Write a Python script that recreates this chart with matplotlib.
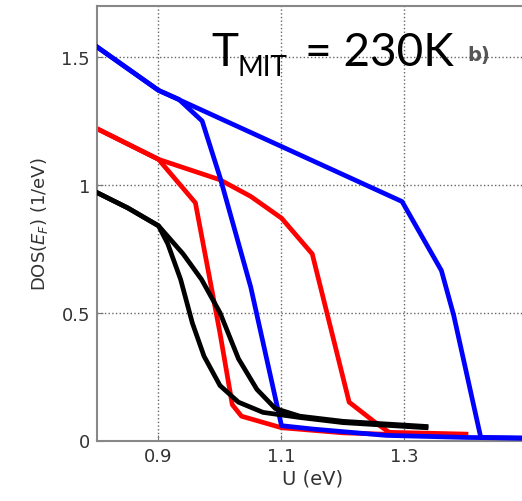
import matplotlib
matplotlib.use("Agg")
import matplotlib.pyplot as plt

# ---- data ----
blue_upper_u   = [0.80, 0.90, 1.296, 1.36, 1.38, 1.424, 1.60]
blue_upper_dos = [1.54, 1.37, 0.935, 0.665, 0.49, 0.012, 0.006]

blue_steep_u   = [0.80, 0.90, 0.933, 0.971, 1.00, 1.05, 1.10, 1.15, 1.27, 1.40, 1.60]
blue_steep_dos = [1.54, 1.37, 1.335, 1.25, 1.03, 0.60, 0.058, 0.045, 0.02, 0.012, 0.006]

red_upper_u   = [0.80, 0.90, 1.00, 1.05, 1.10, 1.15, 1.21, 1.25, 1.275, 1.40]
red_upper_dos = [1.22, 1.10, 1.02, 0.955, 0.87, 0.73, 0.15, 0.075, 0.032, 0.025]

red_lower_u   = [0.80, 0.90, 0.96, 1.00, 1.02, 1.035, 1.10, 1.20, 1.30]
red_lower_dos = [1.22, 1.10, 0.93, 0.42, 0.14, 0.095, 0.05, 0.03, 0.022]

black_left_u   = [0.80, 0.85, 0.90, 0.915, 0.936, 0.955, 0.974, 1.00, 1.03, 1.07, 1.13, 1.20, 1.335]
black_left_dos = [0.97, 0.91, 0.84, 0.77, 0.63, 0.46, 0.33, 0.215, 0.15, 0.11, 0.09, 0.07, 0.05]

black_right_u   = [0.80, 0.85, 0.90, 0.94, 0.97, 1.00, 1.03, 1.06, 1.09, 1.13, 1.20, 1.335]
black_right_dos = [0.97, 0.91, 0.84, 0.73, 0.63, 0.50, 0.32, 0.20, 0.125, 0.095, 0.075, 0.055]

xticks = [0.9, 1.1, 1.3]
xtick_labels = ["0.9", "1.1", "1.3"]
yticks = [0, 0.5, 1, 1.5]
ytick_labels = ["0", "0.5", "1", "1.5"]

fig = plt.figure(figsize=(5.22, 5.02), dpi=100)
ax = fig.add_axes([97/522, 60.5/502, 430.5/522, 434.5/502])
ax.set_xlim(0.8, 1.5)
ax.set_ylim(0, 1.7)

lw = 3.4
ax.plot(blue_upper_u, blue_upper_dos, color="#0000ff", lw=lw, solid_joinstyle="round", zorder=3)
ax.plot(blue_steep_u, blue_steep_dos, color="#0000ff", lw=lw, solid_joinstyle="round", zorder=3)
ax.plot(red_upper_u, red_upper_dos, color="#ff0000", lw=lw, solid_joinstyle="round", zorder=2)
ax.plot(red_lower_u, red_lower_dos, color="#ff0000", lw=lw, solid_joinstyle="round", zorder=2)
ax.plot(black_left_u, black_left_dos, color="black", lw=lw, solid_joinstyle="round", zorder=4)
ax.plot(black_right_u, black_right_dos, color="black", lw=lw, solid_joinstyle="round", zorder=4)

ax.set_xticks(xticks)
ax.set_xticklabels(xtick_labels)
ax.set_yticks(yticks)
ax.set_yticklabels(ytick_labels)
ax.tick_params(direction="in", length=4, color="#777777", labelsize=13,
               labelcolor="#333333", pad=5)
ax.grid(True, linestyle=":", color="#666666", linewidth=1.0)
for s in ["left", "bottom", "top"]:
    ax.spines[s].set_color("#888888")
    ax.spines[s].set_linewidth(1.5)
ax.spines["right"].set_visible(False)

ax.set_xlabel("U (eV)", fontsize=14, color="#333333", labelpad=2)
ax.set_ylabel(r"DOS($E_F$) (1/eV)", fontsize=13, color="#333333", labelpad=8)

# title-like annotation
fig.text(211/522, 1 - 66/502, "T", fontsize=33, family="Lato", color="black",
         ha="left", va="baseline")
fig.text(237/522, 1 - 76/502, "MIT", fontsize=20, family="Lato", color="black",
         ha="left", va="baseline")
fig.text(305/522, 1 - 66/502, "= 230K", fontsize=33, family="Lato", color="black",
         ha="left", va="baseline")
fig.text(467/522, 1 - 61/502, "b)", fontsize=14, color="#555555", fontweight="bold",
         ha="left", va="baseline")

fig.savefig("out.png", dpi=100)
